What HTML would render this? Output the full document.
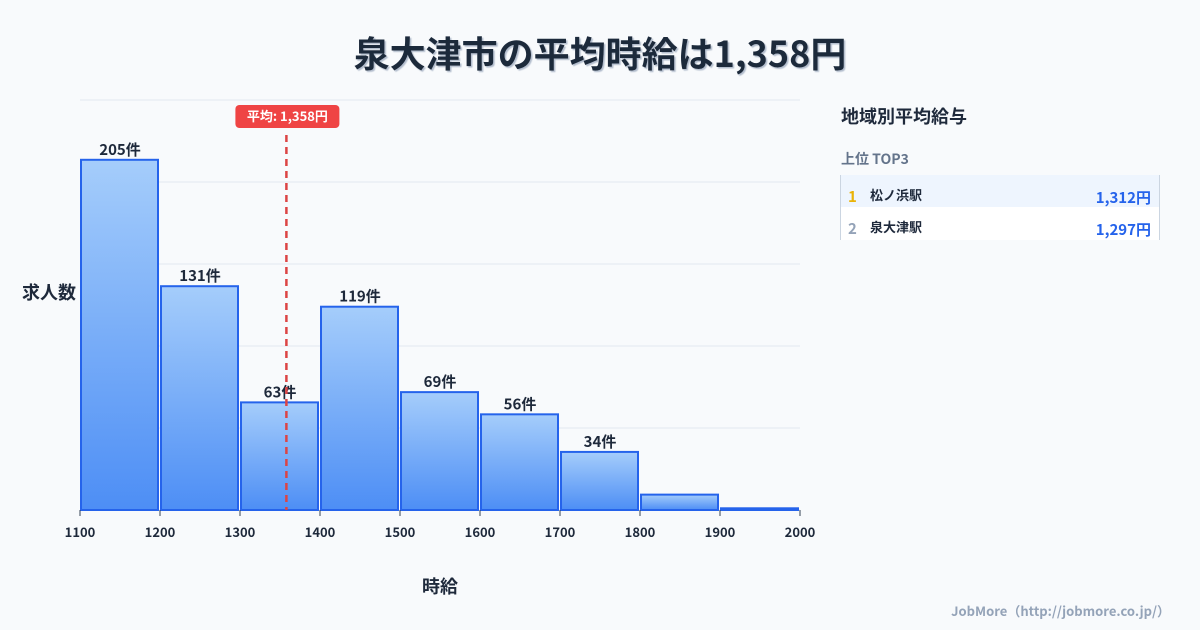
<!DOCTYPE html>
<html><head><meta charset="utf-8"><style>
body{margin:0;background:#f8fafc;font-family:"Noto Sans CJK JP","Liberation Sans",sans-serif;}
#wrap{position:relative;width:1200px;height:630px;overflow:hidden;background:#f8fafc}
</style></head><body>
<div id="wrap">
<svg width="1200" height="630" xmlns="http://www.w3.org/2000/svg" style="font-family:'Noto Sans CJK JP','Liberation Sans',sans-serif">
<defs>
<linearGradient id="g" x1="0" y1="0" x2="0" y2="1"><stop offset="0" stop-color="#a5cdfb"/><stop offset="1" stop-color="#4d8ef5"/></linearGradient>
<filter id="sh"><feDropShadow dx="1.5" dy="1.5" stdDeviation="0.5" flood-color="#94a3b8" flood-opacity="0.7"/></filter>
</defs>
<text x="600" y="67" text-anchor="middle" font-size="36" font-weight="bold" fill="#1e293b" filter="url(#sh)">泉大津市の平均時給は1,358円</text>
<g id="grid"></g>
<g id="bars"></g>
<g id="xt"></g>
<text x="49" y="299" text-anchor="middle" font-size="18" font-weight="bold" fill="#1e293b">求人数</text>
<text x="440" y="593" text-anchor="middle" font-size="18" font-weight="bold" fill="#1e293b">時給</text>
<g id="avg"></g>
<text x="841" y="123" font-size="18" font-weight="bold" fill="#1e293b">地域別平均給与</text>
<text x="841" y="164" font-size="14" font-weight="bold" fill="#64748b">上位 TOP3</text>
<rect x="840" y="175" width="320" height="32" fill="#eef5fe"/>
<rect x="840" y="207" width="320" height="33" fill="#ffffff"/>
<line x1="840.5" y1="175" x2="840.5" y2="240" stroke="#cbd5e1"/>
<line x1="1159.5" y1="175" x2="1159.5" y2="240" stroke="#cbd5e1"/>
<text x="848" y="202" font-size="15" font-weight="bold" fill="#eab308">1</text>
<text x="870" y="200" font-size="13" font-weight="bold" fill="#1e293b">松ノ浜駅</text>
<text x="1151" y="203" text-anchor="end" font-size="15" font-weight="bold" fill="#2563eb">1,312円</text>
<text x="848" y="234" font-size="15" font-weight="bold" fill="#94a3b8">2</text>
<text x="870" y="232" font-size="13" font-weight="bold" fill="#1e293b">泉大津駅</text>
<text x="1151" y="235" text-anchor="end" font-size="15" font-weight="bold" fill="#2563eb">1,297円</text>
<text x="1170" y="616" text-anchor="end" font-size="13" font-weight="bold" fill="#94a3b8">JobMore（http://jobmore.co.jp/）</text>
</svg>
</div>
<script>
const bins=[1100,1200,1300,1400,1500,1600,1700,1800,1900];
const counts=[205,131,63,119,69,56,34,9,1];
const ticks=[1100,1200,1300,1400,1500,1600,1700,1800,1900,2000];
const gridVals=[0,48,96,144,192,240];
const avgVal=1358;
const NS="http://www.w3.org/2000/svg";
const X=v=>80+(v-1100)*0.8, Y=v=>510-v*410/240;
function mk(t,a,p){const e=document.createElementNS(NS,t);for(const k in a)e.setAttribute(k,a[k]);p.appendChild(e);return e;}
const grid=document.getElementById('grid');
gridVals.forEach(v=>{const l=mk('line',{x1:80,x2:800,y1:Y(v),y2:Y(v),stroke:'#e2e8f0'},grid);

});
const bars=document.getElementById('bars');
bins.forEach((b,i)=>{
 const r=mk('rect',{x:X(b)+1,y:Y(counts[i]),width:77,height:510-Y(counts[i]),fill:'url(#g)',stroke:'#2563eb','stroke-width':2},bars);
 
 
 if(counts[i]>=20){const t=mk('text',{x:X(b)+40,y:Y(counts[i])-5,'text-anchor':'middle','font-size':15,'font-weight':'bold',fill:'#1e293b'},bars);t.textContent=counts[i]+'件';
 
 }
});
const xt=document.getElementById('xt');
ticks.forEach(v=>{mk('line',{x1:X(v),x2:X(v),y1:510,y2:516,stroke:'#334155'},xt);
 const t=mk('text',{x:X(v),y:537,'text-anchor':'middle','font-size':13,'font-weight':'bold',fill:'#1e293b'},xt);t.textContent=v;
 
 });
const avg=document.getElementById('avg');
const ax=X(avgVal);
const al=mk('line',{x1:ax,x2:ax,y1:135,y2:510,stroke:'#dc4444','stroke-width':2.5,'stroke-dasharray':'7,5'},avg);


const ab=mk('rect',{x:ax-51,y:105,width:104,height:23,rx:4,fill:'#ef4444'},avg);


const at=mk('text',{x:ax+1,y:121,'text-anchor':'middle','font-size':13,'font-weight':'bold',fill:'#fff'},avg);
at.textContent='平均: 1,358円';
</script>
</body></html>
